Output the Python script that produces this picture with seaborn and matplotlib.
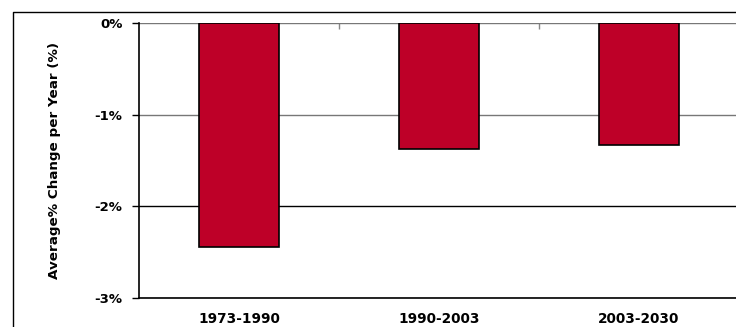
import matplotlib
matplotlib.use("Agg")
import matplotlib.pyplot as plt
import seaborn as sns
import pandas as pd
from matplotlib.lines import Line2D
from matplotlib.ticker import FuncFormatter

periods = ["1973-1990", "1990-2003", "2003-2030"]
change_pct = [-2.44, -1.38, -1.33]
y_ticks = [0, -1, -2, -3]

sns.set_theme(style="white")
plt.rcParams["font.family"] = ["DejaVu Sans"]
plt.rcParams["text.color"] = "black"
plt.rcParams["axes.labelcolor"] = "black"
plt.rcParams["xtick.color"] = "black"
plt.rcParams["ytick.color"] = "black"

df = pd.DataFrame({"period": periods, "change": change_pct})

fig = plt.figure(figsize=(7.36, 3.27), dpi=100)
ax = fig.add_axes([139/736, 1-298/327, 600/736, 275/327])

sns.barplot(data=df, x="period", y="change", ax=ax, color="#BE0028",
            saturation=1, width=0.4, edgecolor="black", linewidth=1.2, zorder=3)

ax.set_ylim(-3, 0)
ax.set_xlim(-0.5, 2.5)
ax.set_yticks(y_ticks)
ax.yaxis.set_major_formatter(FuncFormatter(lambda v, p: f"{int(round(v))}%"))
ax.grid(axis="y", color="#666666", linewidth=1.0, zorder=0)
for gl, t in zip(ax.get_ygridlines(), ax.get_yticks()):
    if round(t) == -2:
        gl.set_color("black")
    else:
        gl.set_color("#777777")

for s in ["top", "right"]:
    ax.spines[s].set_visible(False)
for s in ["left", "bottom"]:
    ax.spines[s].set_visible(True)
    ax.spines[s].set_color("black")
    ax.spines[s].set_linewidth(1.2)

ax.set_xlabel("")
ax.set_ylabel("Average% Change per Year (%)", fontsize=9.7, fontweight="bold",
              labelpad=24, color="black")
ax.tick_params(axis="y", which="major", left=True, length=5, width=1, color="black",
               direction="out", pad=7, labelsize=9.5, labelcolor="black")
for lab in ax.get_yticklabels():
    lab.set_fontweight("bold")
ax.tick_params(axis="x", which="major", bottom=False, length=0, pad=10, labelsize=9.8,
               labelcolor="black")
for lab in ax.get_xticklabels():
    lab.set_fontweight("bold")
ax.set_xticks([0.5, 1.5], minor=True)
ax.tick_params(axis="x", which="minor", top=True, bottom=False, direction="in",
               length=4, width=1, color="#888888")

fx = 13/736
fy = 1 - 12/327
fig.add_artist(Line2D([fx, fx, 1.0], [0.0, fy, fy], transform=fig.transFigure,
                      color="black", linewidth=1.0))

fig.savefig("out.png", dpi=100)
